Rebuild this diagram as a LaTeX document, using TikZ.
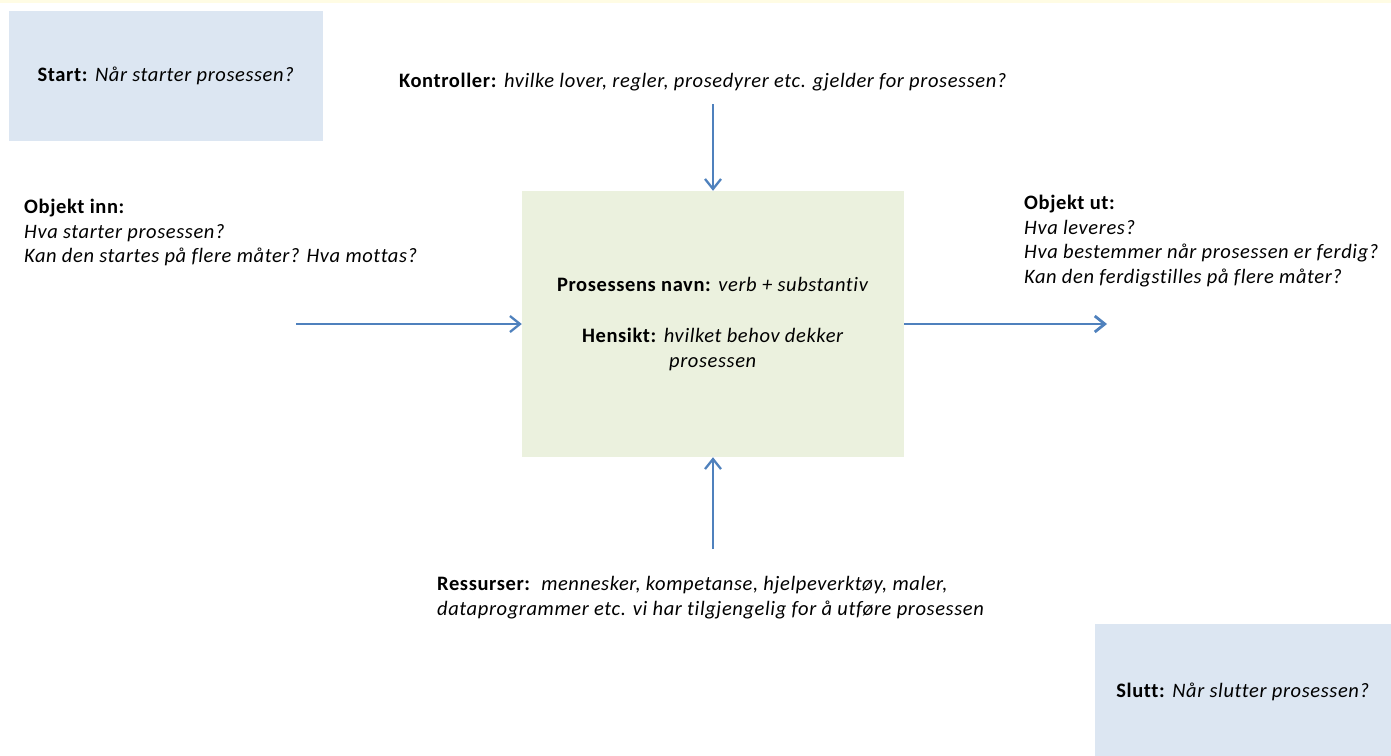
\documentclass[tikz,border=0pt]{standalone}
\usepackage{fontspec}
\setmainfont{Carlito}[LetterSpace=3,Ligatures=NoCommon]
\usetikzlibrary{arrows.meta,positioning}
\definecolor{bc}{RGB}{220,230,242}
\definecolor{gc}{RGB}{235,241,222}
\definecolor{ac}{RGB}{79,129,189}
\definecolor{yc}{RGB}{255,252,228}
\tikzset{sb/.style={fill=bc,minimum width=314pt,minimum height=130pt,inner sep=0pt},
 pb/.style={fill=gc,minimum width=382pt,minimum height=266pt,align=center,inner sep=0pt},
 txt/.style={align=left,inner sep=0pt,anchor=north west},
 arr/.style={draw=ac,line width=2.3pt,-{Straight Barb[length=10pt,width=16pt]}},
 every node/.style={font=\fontsize{20.5}{24.5}\selectfont}}
\begin{document}
\begin{tikzpicture}[x=1pt,y=-1pt]
\useasboundingbox (0,0) rectangle (1391,755);
\fill[yc] (0,0) rectangle (1391,3);
\node[sb] (start) at (166,76) {\textbf{Start:} \textit{Når starter prosessen?}};
\node[sb,minimum width=296pt,minimum height=136pt] (slutt) at (1243,692) {\textbf{Slutt:} \textit{Når slutter prosessen?}};
\node[pb] (prosess) at (713,324) {\textbf{Prosessens navn:} \textit{verb + substantiv}\\[27pt]\textbf{Hensikt:} \textit{hvilket behov dekker}\\\textit{prosessen}};
\node[anchor=base,inner sep=0pt] (kontr) at (703,87) {\textbf{Kontroller:} \textit{hvilke lover, regler, prosedyrer etc. gjelder for prosessen?}};
\node[txt] (inn) at (24,199) {\textbf{Objekt inn:}\\\textit{Hva starter prosessen?}\\\textit{Kan den startes på flere måter? Hva mottas?}};
\node[txt] (ut) at (1024,195) {\textbf{Objekt ut:}\\\textit{Hva leveres?}\\\textit{Hva bestemmer når prosessen er ferdig?}\\\textit{Kan den ferdigstilles på flere måter?}};
\node[txt,font=\fontsize{20.5}{25.5}\selectfont] (ress) at (437,576) {\textbf{Ressurser:}\ \ \textit{mennesker, kompetanse, hjelpeverktøy, maler,}\\\textit{dataprogrammer etc. vi har tilgjengelig for å utføre prosessen}};
\coordinate (k0) at (713,104);\coordinate (i0) at (296,324);\coordinate (u0) at (1107,324);\coordinate (r0) at (713,549);
\draw[arr] (k0)--(prosess.north);
\draw[arr] (i0)--(prosess.west);
\draw[arr,line width=2.8pt] (prosess.east)--(u0);
\draw[arr] (r0)--(prosess.south);
\end{tikzpicture}
\end{document}
